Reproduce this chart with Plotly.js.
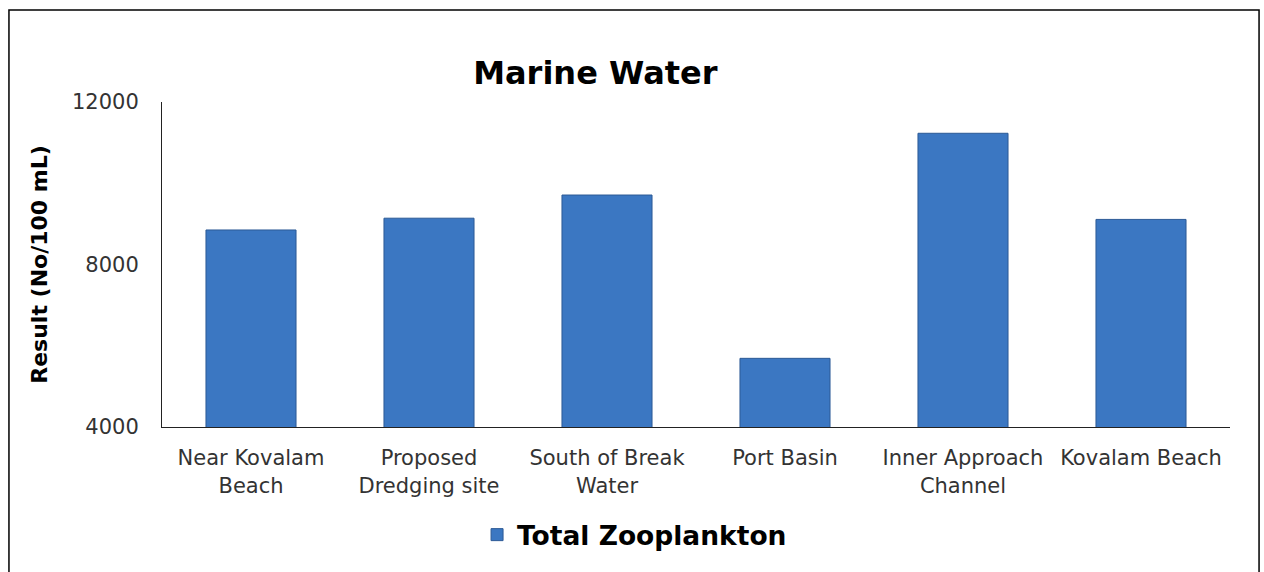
<!DOCTYPE html>
<html>
<head>
<meta charset="utf-8">
<script src="https://cdn.plot.ly/plotly-3.0.1.min.js"></script>
<style>
  html, body { margin: 0; padding: 0; background: #fff; }
  #plot { width: 1264px; height: 572px; }
</style>
</head>
<body>
<div id="plot"></div>
<script>
// Marine water - total zooplankton per sampling station
var stations = [
  "Near Kovalam<br>Beach",
  "Proposed<br>Dredging site",
  "South of Break<br>Water",
  "Port Basin",
  "Inner Approach<br>Channel",
  "Kovalam Beach"
];
var zooplankton = [8850, 9140, 9710, 5690, 11230, 9110];

var trace1 = {
  x: stations,
  y: zooplankton,
  type: "bar",
  name: "Total Zooplankton",
  marker: {
    color: "#3b77c2",
    line: { color: "#2c5a96", width: 1 }
  }
};

var layout = {
  width: 1264,
  height: 572,
  margin: { l: 162, r: 34, t: 102, b: 145 },
  paper_bgcolor: "#fff",
  plot_bgcolor: "#fff",
  font: { family: "DejaVu Sans, Verdana, sans-serif", size: 21, color: "#333" },
  title: {
    text: "<b>Marine Water</b>",
    font: { size: 32, color: "#000" },
    xref: "container",
    x: 0.471,
    y: 0.872,
    yanchor: "middle"
  },
  bargap: 0.494,
  showlegend: true,
  legend: {
    orientation: "h",
    x: 0.295,
    xanchor: "left",
    y: -0.332,
    yanchor: "middle",
    font: { size: 26.5, color: "#000", weight: "bold" }
  },
  xaxis: {
    showline: true,
    linecolor: "#222",
    linewidth: 1,
    ticks: "",
    ticklabelstandoff: 12,
    showgrid: false,
    zeroline: false
  },
  yaxis: {
    range: [4000, 12000],
    dtick: 4000,
    tick0: 4000,
    tickformat: "d",
    showline: true,
    linecolor: "#222",
    linewidth: 1,
    ticks: "",
    ticklabelstandoff: 18,
    showgrid: false,
    zeroline: false,
    title: {
      text: "<b>Result (No/100 mL)</b>",
      font: { size: 22, color: "#000" },
      standoff: 18
    }
  },
  // outer chart border
  shapes: [{
    type: "rect",
    xref: "paper",
    yref: "paper",
    x0: -0.1433,
    x1: 1.0272,
    y0: -0.46,
    y1: 1.283,
    line: { color: "#000", width: 1.5 }
  }]
};

Plotly.newPlot("plot", [trace1], layout, { displayModeBar: false });
</script>
</body>
</html>
